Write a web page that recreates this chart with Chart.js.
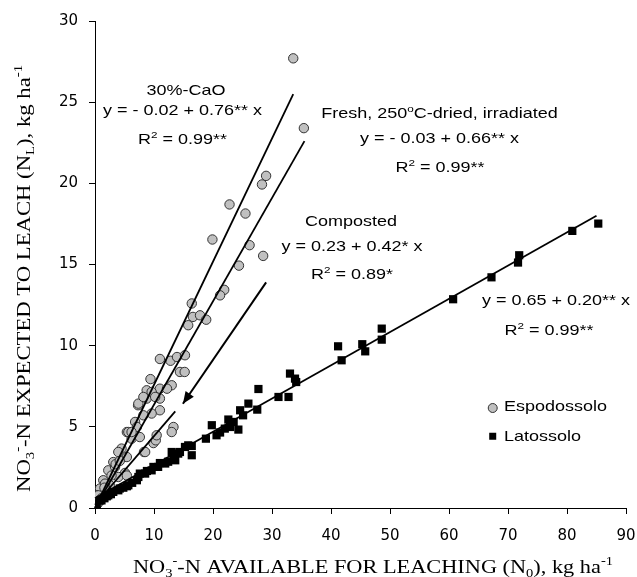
<!DOCTYPE html>
<html>
<head>
<meta charset="utf-8">
<script src="https://cdn.jsdelivr.net/npm/chart.js@4/dist/chart.umd.min.js"></script>
<style>
html,body{margin:0;padding:0;background:#fff;}
#wrap{width:637px;height:577px;position:relative;}
</style>
</head>
<body>
<div id="wrap"><canvas id="c" width="637" height="577"></canvas></div>
<script>
// ---- Data ----
const seriesNames = ['Espodossolo', 'Latossolo'];

// Espodossolo (grey circles)
const espX = [33.6,35.4,29.0,28.3,22.8,25.5,19.9,26.2,28.5,24.4,21.9,21.2,
  16.4,16.6,17.8,18.85,15.8,11.0,12.8,13.9,15.25,14.4,15.2,13.0,9.4,11.0,12.2,8.76,
  7.3,8.76,11.0,11.0,9.6,8.2,6.8,7.1,5.4,6.2,7.6,4.5,3.95,5.4,8.3,9.9,10.3,13.3,13.0,
  3.1,2.25,5.1,3.95,1.4,0.85,2.5,0.3,7.35,8.2,9.6,10.2,5.65,6.2,3.4,1.7,0.56,5.4,
  8.5,10.45,2.0,1.1,0.6,0.2,1.6,2.8,3.5,4.2,0.9,0.4];
const espY = [27.7,23.4,20.46,19.93,18.7,18.14,16.54,16.19,15.53,14.93,13.44,13.1,
  12.6,11.77,11.87,11.6,11.26,9.18,9.07,9.3,9.41,8.38,8.38,7.56,7.94,7.35,7.35,7.25,
  6.33,6.74,6.74,6.02,5.82,5.71,5.3,4.99,4.68,4.27,4.37,3.66,3.45,3.14,3.45,4.0,4.17,4.99,4.68,
  2.83,2.32,2.16,1.91,1.71,1.2,1.4,0.78,6.43,6.84,7.15,6.84,4.68,4.68,2.53,1.5,0.78,2.0,
  3.45,4.48,1.1,0.6,0.35,0.15,1.25,2.0,2.7,2.9,0.5,0.25];

// Latossolo (black squares)
const latX = [85.3,80.9,71.9,71.7,67.2,60.7,48.6,48.6,45.3,45.8,41.2,41.8,33.05,33.9,34.1,
  27.7,32.8,31.1,27.5,26.0,24.6,25.1,22.6,22.9,24.3,22.0,19.8,20.6,18.8,15.8,16.4,16.4,
  14.4,13.3,13.0,13.6,11.0,9.9,8.8,7.6,7.1,5.4,4.2,3.1,2.0,0.85,0.3,7.35,8.5,9.6,10.7,
  11.9,14.1,15.25,5.65,3.95,2.25,1.1,0.1,1.6,2.7,4.8,6.3,12.4,21.2,23.5];
const latY = [17.52,17.07,15.57,15.12,14.21,12.86,11.05,10.37,10.09,9.65,9.96,9.1,8.28,7.97,7.76,
  7.33,6.84,6.84,6.06,6.43,6.02,5.71,5.45,4.99,4.83,4.89,5.1,4.48,4.27,3.86,3.82,3.25,
  3.45,3.04,3.45,2.94,2.77,2.53,2.28,2.12,1.71,1.34,1.2,0.99,0.72,0.47,0.17,1.91,2.12,2.32,2.53,
  2.74,3.35,3.76,1.4,1.09,0.78,0.47,0.29,0.6,0.85,1.25,1.55,2.85,4.65,5.3];

// Regression lines (end points)
const lineCaoX = [0, 33.6],    lineCaoY = [0, 25.5];
const lineFreshX = [0, 35.5],  lineFreshY = [0, 22.6];
const lineCompX = [0, 13.6],   lineCompY = [0.2, 5.95];
const lineLatX = [0, 85.0],    lineLatY = [0.6, 18.0];
const arrowX = [29.0, 14.9],   arrowY = [13.9, 6.42];

// Axes
const xTicks = [0,10,20,30,40,50,60,70,80,90];
const yTicks = [0,5,10,15,20,25,30];

// ---- helpers ----
const pts = (xs, ys) => xs.map((v, i) => ({x: v, y: ys[i]}));
const lineDs = (xs, ys) => ({
  type: 'line', data: pts(xs, ys), showLine: true, borderColor: '#000',
  borderWidth: 1.8, pointRadius: 0, fill: false, order: 0, clip: false
});

const SANS = '"Liberation Sans", Arial, sans-serif';
const SERIF = '"Liberation Serif", "Times New Roman", serif';

// Annotation texts: segments [text, mode], anchored in data coordinates (centre, baseline)
const notes = [
  {segs: [['30%-CaO','']], x: 15.42, y: 25.47},
  {segs: [['y = - 0.02 + 0.76** x','']], x: 14.83, y: 24.19},
  {segs: [['R',''],['2','sup'],[' = 0.99**','']], x: 14.83, y: 22.41},
  {segs: [['Fresh, 250',''],['o','sup'],['C-dried, irradiated','']], x: 58.39, y: 24.01},
  {segs: [['y = - 0.03 + 0.66** x','']], x: 58.39, y: 22.47},
  {segs: [['R',''],['2','sup'],[' = 0.99**','']], x: 58.47, y: 20.70},
  {segs: [['Composted','']], x: 43.39, y: 17.37},
  {segs: [['y = 0.23 + 0.42* x','']], x: 43.56, y: 15.83},
  {segs: [['R',''],['2','sup'],[' = 0.89*','']], x: 43.56, y: 14.09},
  {segs: [['y = 0.65 + 0.20** x','']], x: 78.14, y: 12.49},
  {segs: [['R',''],['2','sup'],[' = 0.99**','']], x: 76.95, y: 10.64}
];

function richWidth(ctx, segs, size, family) {
  let w = 0;
  for (const [t, m] of segs) {
    ctx.font = (m ? size * 0.65 : size) + 'px ' + family;
    w += ctx.measureText(t).width;
  }
  return w;
}
function drawRich(ctx, segs, x, y, o) {
  const size = o.size, fam = o.family;
  ctx.save();
  ctx.translate(x, y);
  if (o.rot) ctx.rotate(o.rot);
  const w = richWidth(ctx, segs, size, fam);
  let sx = o.sx || 1;
  if (o.len) sx = o.len / w;
  ctx.scale(sx, 1);
  let cx = o.align === 'left' ? 0 : -w / 2;
  ctx.fillStyle = '#000';
  ctx.textBaseline = 'alphabetic';
  ctx.textAlign = 'left';
  for (const [t, m] of segs) {
    const fs = m ? size * 0.65 : size;
    ctx.font = fs + 'px ' + fam;
    const dy = m === 'sup' ? -size * 0.42 : (m === 'sub' ? size * 0.22 : 0);
    ctx.fillText(t, cx, dy);
    cx += ctx.measureText(t).width;
  }
  ctx.restore();
}

const textPlugin = {
  id: 'texts',
  afterDatasetsDraw(chart) {
    const ctx = chart.ctx;
    const xs = chart.scales.x, ys = chart.scales.y;
    // arrow head
    const x0 = xs.getPixelForValue(arrowX[0]), y0 = ys.getPixelForValue(arrowY[0]);
    const x1 = xs.getPixelForValue(arrowX[1]), y1 = ys.getPixelForValue(arrowY[1]);
    const ang = Math.atan2(y1 - y0, x1 - x0);
    const L = 12, H = 5;
    ctx.save();
    ctx.fillStyle = '#000';
    ctx.beginPath();
    ctx.moveTo(x1, y1);
    ctx.lineTo(x1 - L * Math.cos(ang) + H * Math.sin(ang), y1 - L * Math.sin(ang) - H * Math.cos(ang));
    ctx.lineTo(x1 - L * Math.cos(ang) - H * Math.sin(ang), y1 - L * Math.sin(ang) + H * Math.cos(ang));
    ctx.closePath();
    ctx.fill();
    ctx.restore();

    // annotations
    for (const n of notes) {
      drawRich(ctx, n.segs, xs.getPixelForValue(n.x), ys.getPixelForValue(n.y),
        {size: 15, family: SANS, sx: 1.2});
    }

    // legend
    const lx = xs.getPixelForValue(67.41);
    const tx = xs.getPixelForValue(69.32);
    ctx.save();
    ctx.beginPath();
    ctx.arc(lx, ys.getPixelForValue(6.16), 4.5, 0, Math.PI * 2);
    ctx.fillStyle = '#c0c0c0'; ctx.fill();
    ctx.lineWidth = 1; ctx.strokeStyle = '#333'; ctx.stroke();
    ctx.fillStyle = '#000';
    const sy = ys.getPixelForValue(4.42);
    ctx.fillRect(lx - 3.5, sy - 3.5, 7, 7);
    ctx.restore();
    drawRich(ctx, [[seriesNames[0], '']], tx, ys.getPixelForValue(5.98), {size: 15, family: SANS, sx: 1.2, align: 'left'});
    drawRich(ctx, [[seriesNames[1], '']], tx, ys.getPixelForValue(4.11), {size: 15, family: SANS, sx: 1.2, align: 'left'});

    // axis titles
    drawRich(ctx, [['NO',''],['3','sub'],['-','sup'],['-N AVAILABLE FOR LEACHING (N',''],['0','sub'],['), kg ha',''],['-1','sup']],
      373, 573.3, {size: 19, family: SERIF, len: 480});
    drawRich(ctx, [['NO',''],['3','sub'],['-','sup'],['-N EXPECTED TO LEACH (N',''],['L','sub'],['), kg ha',''],['-1','sup']],
      30, 278.5, {size: 19, family: SERIF, len: 427, rot: -Math.PI / 2});
  }
};

const tickFont = {family: '"DejaVu Sans", sans-serif', size: 15};

new Chart(document.getElementById('c'), {
  type: 'scatter',
  data: {
    datasets: [
      lineDs(lineCaoX, lineCaoY),
      lineDs(lineFreshX, lineFreshY),
      lineDs(lineCompX, lineCompY),
      lineDs(lineLatX, lineLatY),
      Object.assign(lineDs(arrowX, arrowY), {borderWidth: 2}),
      {label: seriesNames[0], data: pts(espX, espY), pointStyle: 'circle', pointRadius: 4.7,
        backgroundColor: '#c0c0c0', borderColor: '#333', borderWidth: 1, order: 2},
      {label: seriesNames[1], data: pts(latX, latY), pointStyle: 'rect', pointRadius: 5.8,
        backgroundColor: '#000', borderColor: '#000', borderWidth: 0, order: 1}
    ]
  },
  options: {
    responsive: false,
    animation: false,
    events: [],
    layout: {padding: {left: 0, right: 11, top: 21, bottom: 0}},
    plugins: {legend: {display: false}, tooltip: {enabled: false}},
    scales: {
      x: {
        type: 'linear', min: 0, max: 90,
        afterBuildTicks: s => { s.ticks = xTicks.map(v => ({value: v})); },
        afterFit: s => { s.height = 69; s.paddingLeft = 0; s.paddingRight = 0; },
        grid: {display: true, drawOnChartArea: false, drawTicks: true, tickLength: 6, color: '#000'},
        border: {display: true, color: '#000', width: 1},
        ticks: {font: tickFont, color: '#000', padding: 13, maxRotation: 0, autoSkip: false}
      },
      y: {
        type: 'linear', min: 0, max: 30,
        afterBuildTicks: s => { s.ticks = yTicks.map(v => ({value: v})); },
        afterFit: s => { s.width = 95; s.paddingTop = 0; s.paddingBottom = 0; },
        grid: {display: true, drawOnChartArea: false, drawTicks: true, tickLength: 6, color: '#000'},
        border: {display: true, color: '#000', width: 1},
        ticks: {font: tickFont, color: '#000', padding: 11, autoSkip: false}
      }
    }
  },
  plugins: [textPlugin]
});
</script>
</body>
</html>
